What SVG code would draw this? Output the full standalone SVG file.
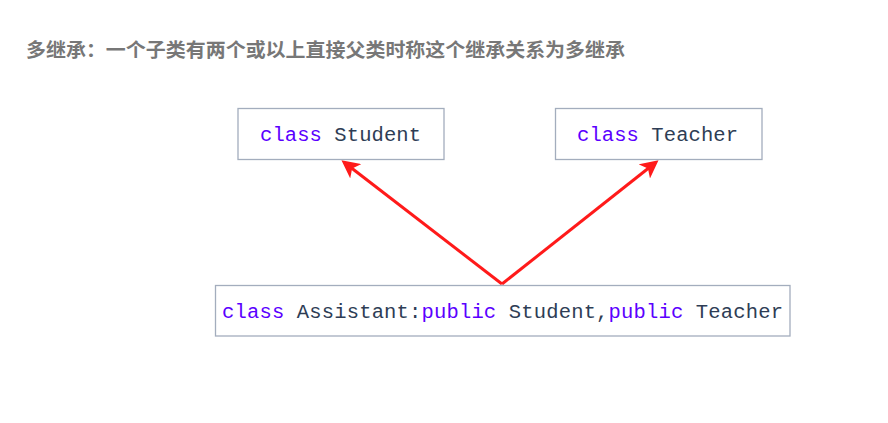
<svg xmlns="http://www.w3.org/2000/svg" width="888" height="423" viewBox="0 0 888 423">
<style>
.title{font-family:"Noto Sans CJK SC","Liberation Sans",sans-serif;font-size:19px;font-weight:bold;fill:#777777}
.box{fill:#ffffff;stroke:#a3adbd;stroke-width:1.3}
.code{font-family:"Liberation Mono","DejaVu Sans Mono",monospace;font-size:20.5px;fill:#2e3d55}
.kw{fill:#5b00ff}
.conn{stroke:#ff1a1a;stroke-width:3;fill:none}
</style>
<defs>
<marker id="ah" markerWidth="6" markerHeight="6" refX="4.5" refY="3" orient="auto" markerUnits="strokeWidth">
<path d="M0,0 L6,3 L0,6 L1.5,3 Z" fill="#ff1a1a"/>
</marker>
</defs>
<rect width="888" height="423" fill="#ffffff"/>
<text class="title" x="26" y="57" textLength="599" lengthAdjust="spacingAndGlyphs">多继承：一个子类有两个或以上直接父类时称这个继承关系为多继承</text>
<g id="connectors">
<line class="conn" x1="502" y1="284" x2="345" y2="163" marker-end="url(#ah)"/>
<line class="conn" x1="502" y1="284" x2="655" y2="163" marker-end="url(#ah)"/>
</g>
<g id="student">
<rect class="box" x="238" y="108.5" width="206" height="51"/>
<text class="code" x="260" y="141" textLength="161"><tspan class="kw">class</tspan> Student</text>
</g>
<g id="teacher">
<rect class="box" x="555.5" y="108.5" width="206.5" height="51"/>
<text class="code" x="577" y="141" textLength="161"><tspan class="kw">class</tspan> Teacher</text>
</g>
<g id="assistant">
<rect class="box" x="215.5" y="285.5" width="574.5" height="50.5"/>
<text class="code" x="222" y="318" textLength="561"><tspan class="kw">class</tspan> Assistant:<tspan class="kw">public</tspan> Student,<tspan class="kw">public</tspan> Teacher</text>
</g>
</svg>
